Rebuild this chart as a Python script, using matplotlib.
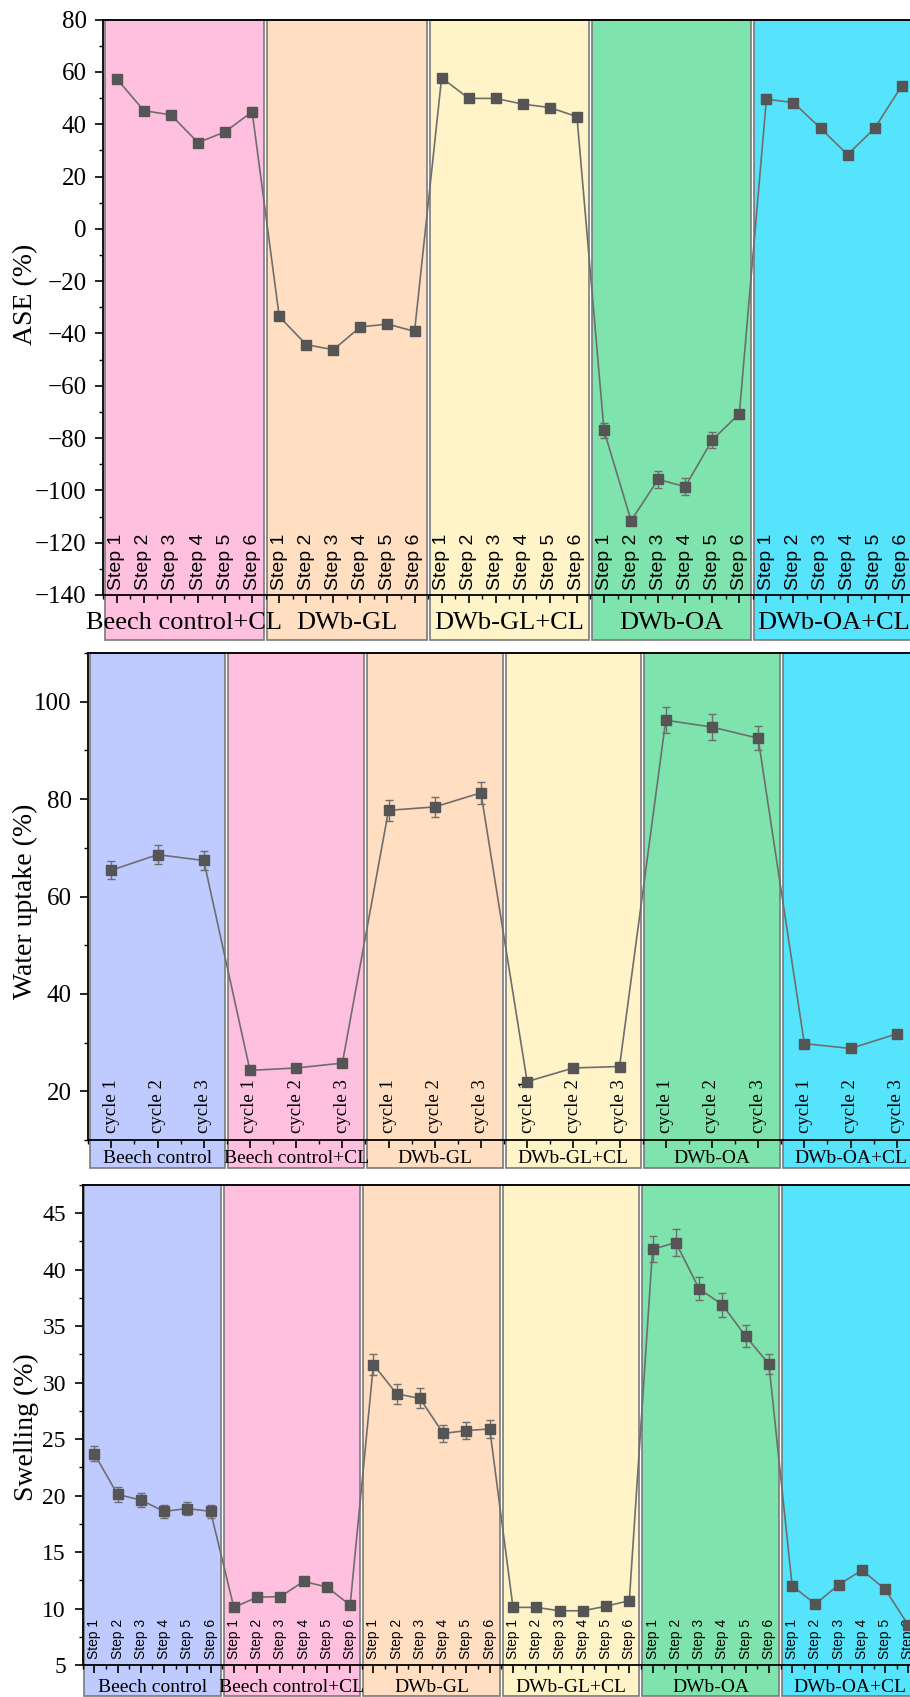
import numpy as np
import matplotlib
matplotlib.use('Agg')
import matplotlib.pyplot as plt
import matplotlib.transforms as mtransforms
from matplotlib.patches import Rectangle
from matplotlib.ticker import MultipleLocator

plt.rcParams['font.family'] = 'Liberation Serif'
SANS = 'Liberation Sans'

# background colour of each treatment
colours = {'Beech control': '#BFCBFF', 'Beech control+CL': '#FFBFDF',
           'DWb-GL': '#FFDEC2', 'DWb-GL+CL': '#FFF3C8',
           'DWb-OA': '#7EE3AC', 'DWb-OA+CL': '#55E4FC'}

# ASE (top)
ase_groups = ['Beech control+CL', 'DWb-GL', 'DWb-GL+CL', 'DWb-OA', 'DWb-OA+CL']
ase_ticks = ['Step 1', 'Step 2', 'Step 3', 'Step 4', 'Step 5', 'Step 6']
ase_vals = [57.4, 45.2, 43.6, 33.0, 37.1, 44.8,
            -33.5, -44.3, -46.2, -37.5, -36.4, -39.2,
            57.8, 49.9, 49.9, 47.7, 46.4, 42.9,
            -77.1, -111.6, -95.8, -98.6, -80.7, -70.7,
            49.6, 48.3, 38.5, 28.4, 38.5, 54.7]
ase_err = [1, 1, 1, 1, 1, 1,
           1, 1, 1, 1, 1, 1,
           1, 1, 1, 1, 1, 1,
           2.8, 1, 3.3, 3.3, 3.0, 1,
           1, 1, 1, 1, 1, 1]

# water uptake (middle)
wu_groups = ['Beech control', 'Beech control+CL', 'DWb-GL', 'DWb-GL+CL', 'DWb-OA', 'DWb-OA+CL']
wu_ticks = ['cycle 1', 'cycle 2', 'cycle 3']
wu_vals = [65.4, 68.6, 67.4,
           24.3, 24.8, 25.8,
           77.7, 78.4, 81.3,
           22.0, 24.8, 25.1,
           96.2, 94.8, 92.5,
           29.8, 28.8, 31.8]
wu_err = [1.9, 1.9, 1.9,
          0.5, 0.5, 0.5,
          2.2, 2.1, 2.3,
          0.5, 0.5, 0.5,
          2.7, 2.6, 2.5,
          0.5, 0.5, 0.5]

# swelling (bottom)
sw_groups = ['Beech control', 'Beech control+CL', 'DWb-GL', 'DWb-GL+CL', 'DWb-OA', 'DWb-OA+CL']
sw_ticks = ['Step 1', 'Step 2', 'Step 3', 'Step 4', 'Step 5', 'Step 6']
sw_vals = [23.7, 20.1, 19.6, 18.6, 18.85, 18.6,
           10.1, 11.0, 11.05, 12.4, 11.9, 10.3,
           31.6, 29.0, 28.6, 25.5, 25.75, 25.9,
           10.1, 10.1, 9.8, 9.8, 10.2, 10.7,
           41.8, 42.4, 38.3, 36.9, 34.1, 31.65,
           12.0, 10.4, 12.1, 13.4, 11.7, 8.5]
sw_err = [0.66, 0.63, 0.6, 0.6, 0.6, 0.55,
          0.15, 0.15, 0.15, 0.15, 0.15, 0.15,
          0.93, 0.88, 0.88, 0.77, 0.75, 0.8,
          0.15, 0.15, 0.15, 0.15, 0.15, 0.15,
          1.15, 1.18, 1.03, 1.05, 0.99, 0.91,
          0.15, 0.15, 0.15, 0.15, 0.15, 0.15]

fig = plt.figure(figsize=(9.10, 16.97), dpi=100)


def draw_panel(rect, groups, ticks, vals, errs, ylabel, ylim, major, minor,
               inset, box_drop, label_drop, tick_lift, group_fs, tick_fs,
               tick_family, ytick_fs, ylabel_x, ylabel_y):
    ax = fig.add_axes(rect)
    n = len(ticks)
    x = np.arange(1, len(vals) + 1)
    ax.set_xlim(0.5, len(vals) + 0.5)
    ax.set_ylim(*ylim)
    trans = mtransforms.blended_transform_factory(ax.transData, ax.transAxes)

    # coloured group boxes run from the top spine down past the group names
    for g, name in enumerate(groups):
        ax.add_patch(Rectangle((g * n + 0.5 + inset, -box_drop), n - 2 * inset, 1 + box_drop,
                               transform=trans, facecolor=colours[name], edgecolor='#7a7a7a',
                               lw=1.2, clip_on=False, zorder=0))
        ax.text(g * n + (n + 1) / 2, -label_drop, name, transform=trans, ha='center',
                va='center', fontsize=group_fs, clip_on=False, zorder=2)
        for k, t in enumerate(ticks):
            ax.text(g * n + k + 1, tick_lift, t, transform=trans, rotation=90, ha='center',
                    va='bottom', fontsize=tick_fs, family=tick_family, zorder=2)

    ax.errorbar(x, vals, yerr=errs, fmt='-s', color='#6e6e6e', mfc='#555555', mec='#555555',
                ms=7.5, lw=1.2, ecolor='#6e6e6e', elinewidth=1, capsize=3.2, capthick=1,
                zorder=3)

    ax.xaxis.set_major_locator(MultipleLocator(1))
    ax.xaxis.set_minor_locator(MultipleLocator(0.5))
    ax.yaxis.set_major_locator(MultipleLocator(major))
    ax.yaxis.set_minor_locator(MultipleLocator(minor))
    ax.tick_params(axis='x', which='major', direction='out', length=6, width=1.2, labelbottom=False)
    ax.tick_params(axis='x', which='minor', direction='out', length=3, width=1.0)
    ax.tick_params(axis='y', which='major', direction='out', length=6, width=1.2,
                   labelsize=ytick_fs, pad=6)
    ax.tick_params(axis='y', which='minor', direction='out', length=3, width=1.0)
    for s in ax.spines.values():
        s.set_linewidth(1.3)
        s.set_zorder(4)
    ax.set_ylabel(ylabel, fontsize=20)
    ax.yaxis.set_label_coords(ylabel_x, ylabel_y)
    return ax


draw_panel([0.1135, 0.6494, 0.8923, 0.3390], ase_groups, ase_ticks, ase_vals, ase_err,
           'ASE (%)', (-140, 80), 20, 10,
           0.055, 0.078, 0.049, 0.0087, 19, 14, SANS, 18, -0.0804, 0.523)

draw_panel([0.0970, 0.3282, 0.9138, 0.2870], wu_groups, wu_ticks, wu_vals, wu_err,
           'Water uptake (%)', (10, 110), 20, 10,
           0.032, 0.058, 0.037, 0.0144, 14, 13.5, 'Liberation Serif', 18, -0.0605, 0.49)

draw_panel([0.0908, 0.01886, 0.9203, 0.2829], sw_groups, sw_ticks, sw_vals, sw_err,
           'Swelling (%)', (5, 47.5), 5, 2.5,
           0.064, 0.065, 0.046, 0.0125, 14, 10, SANS, 17, -0.052, 0.496)

fig.savefig('out.png', dpi=100)
